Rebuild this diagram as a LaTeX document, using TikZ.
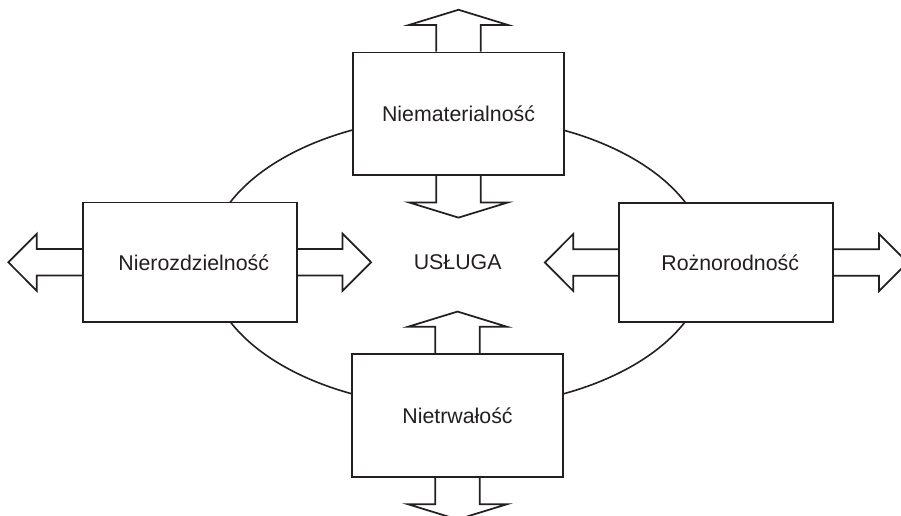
\documentclass[tikz,border=0pt]{standalone}
\usepackage{fontspec}
\setmainfont{Liberation Sans}
\usetikzlibrary{shapes.geometric}
\definecolor{ink}{HTML}{231F20}
\begin{document}
\begin{tikzpicture}[x=0.75pt,y=-0.75pt,
  line width=1.3pt, color=ink, line join=miter,
  label font/.style={font=\fontsize{16}{19}\selectfont},
  trait/.style={draw, fill=white, rectangle, inner sep=0pt, label font},
  vbox/.style={trait, minimum width=158.6pt, minimum height=91.9pt},
  hbox/.style={trait, minimum width=160.5pt, minimum height=89.6pt},
  core/.style={draw, ellipse, inner sep=0pt, line width=1.2pt,
    minimum width=374.1pt, minimum height=218.3pt, label font},
  % hollow block arrow, base at the origin, pointing up
  varrow/.pic={\draw (-22.2,0) -- (-22.2,-26.6) -- (-49.5,-26.6) -- (0,-41.8)
      -- (49.5,-26.6) -- (22.2,-26.6) -- (22.2,0);},
  % hollow block arrow, base at the origin, pointing left
  harrow/.pic={\draw (0,-13.3) -- (-45,-13.3) -- (-45,-28.6) -- (-73.5,0)
      -- (-45,28.6) -- (-45,13.3) -- (0,13.3);}
]
\useasboundingbox (0,0) rectangle (901,516);
\fill[white] (0,0) rectangle (901,516);
\clip (0,0) rectangle (901,516);

% the service in the middle
\node[core] (service) at (457.7,262) {USŁUGA};

% its four traits
\node[vbox] (intangible)  at (458.5,113.7) {Niematerialność};
\node[vbox] (perishable)  at (457.5,415.5) {Nietrwałość};
\node[hbox] (inseparable) at (189.7,262.3) {\hspace*{6pt}Nierozdzielność};
\node[hbox] (variable)    at (726.2,262.5) {\hspace*{6pt}Rożnorodność};

% double block arrows through each trait
\pic at (intangible.north) {varrow};
\pic[rotate=180] at (intangible.south) {varrow};
\pic at (perishable.north) {varrow};
\pic[rotate=180] at (perishable.south) {varrow};
\pic at (inseparable.west) {harrow};
\pic[rotate=180] at (inseparable.east) {harrow};
\pic at (variable.west) {harrow};
\pic[rotate=180] at (variable.east) {harrow};
\end{tikzpicture}
\end{document}
